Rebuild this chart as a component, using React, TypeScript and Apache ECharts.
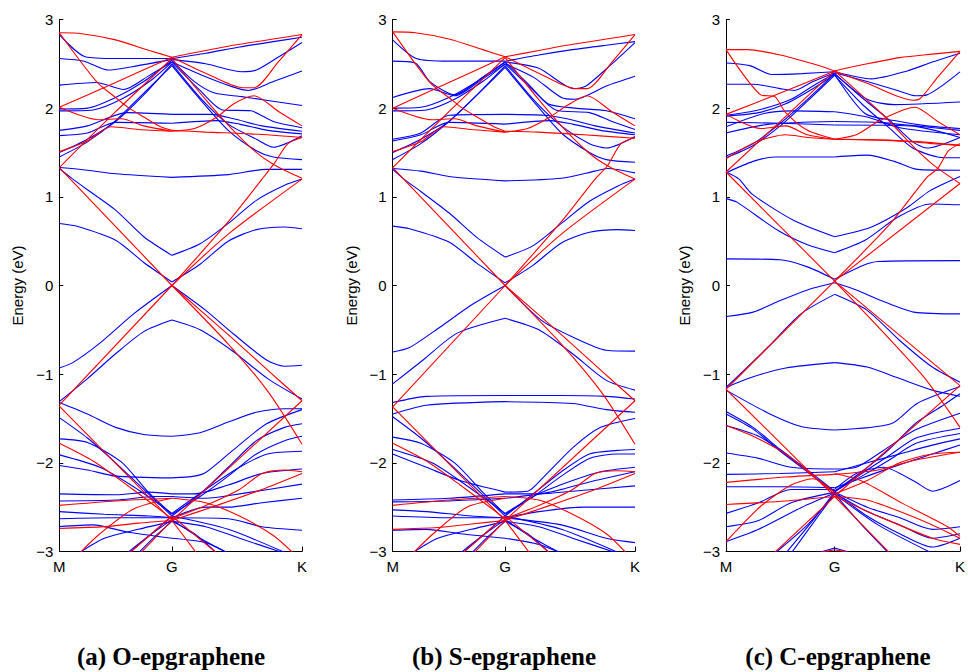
import React, { useEffect, useRef } from "react";
import * as echarts from "echarts";

const kTicks = [0, 1, 2.155];
const kLabels = ["M", "G", "K"];
const energyRange = [-3, 3];
const panelTitles = ["(a) O-epgraphene", "(b) S-epgraphene", "(c) C-epgraphene"];

const aBlue: number[][][] = [
  [[0,2.83],[0.23,2.58],[0.5,2.56],[1,2.56],[1.3,2.62],[1.6,2.69],[1.9,2.75],[2.155,2.8]],
  [[0,2.56],[0.22,2.53],[0.43,2.43],[0.7,2.48],[1,2.55],[1.3,2.5],[1.62,2.41],[1.75,2.43],[1.95,2.58],[2.155,2.74]],
  [[0,2.26],[0.33,2.29],[0.57,2.21],[0.8,2.37],[1,2.52],[1.25,2.38],[1.54,2.24],[1.68,2.2],[1.9,2.3],[2.155,2.42]],
  [[0,1.99],[0.25,2.0],[0.5,2.12],[0.75,2.3],[1,2.54],[1.2,2.3],[1.38,2.17],[1.62,2.13],[2.155,2.03]],
  [[0,1.97],[0.3,1.98],[0.55,2.1],[0.8,2.3],[1,2.52],[1.25,2.2],[1.45,1.98],[1.7,1.97],[1.9,1.85],[2.155,1.78]],
  [[0,1.75],[0.25,1.8],[0.6,1.95],[1,1.93],[1.35,1.93],[1.55,1.88],[1.8,1.8],[2.155,1.74]],
  [[0,1.69],[0.25,1.72],[0.5,1.84],[1,1.83],[1.4,1.86],[1.6,1.82],[1.85,1.75],[2.155,1.71]],
  [[0,1.5],[0.25,1.65],[0.5,1.85],[0.75,2.15],[1,2.5],[1.25,2.12],[1.5,1.82],[1.75,1.65],[1.9,1.56],[2.155,1.69]],
  [[0,1.45],[0.25,1.62],[0.5,1.86],[0.75,2.17],[1,2.48],[1.25,2.1],[1.5,1.75],[1.75,1.52],[1.9,1.45],[2.155,1.42]],
  [[0,1.33],[0.25,1.3],[0.5,1.26],[1,1.22],[1.5,1.25],[1.84,1.31],[2.155,1.31]],
  [[0,1.32],[0.1,1.22],[0.25,1.08],[0.5,0.85],[0.75,0.55],[1,0.34],[1.25,0.47],[1.5,0.7],[1.75,0.96],[2,1.13],[2.155,1.2]],
  [[0,0.7],[0.15,0.67],[0.5,0.51],[0.75,0.26],[1,0.04],[1.25,0.24],[1.5,0.5],[1.75,0.63],[2,0.66],[2.155,0.64]],
  [[0,-0.93],[0.12,-0.87],[0.36,-0.65],[0.66,-0.32],[1,0],[1.3,-0.28],[1.55,-0.55],[1.84,-0.84],[2,-0.91],[2.155,-0.9]],
  [[0,-1.31],[0.25,-1.05],[0.5,-0.77],[0.75,-0.52],[1,-0.39],[1.25,-0.5],[1.55,-0.75],[1.85,-1.05],[2.155,-1.28]],
  [[0,-1.32],[0.25,-1.45],[0.5,-1.6],[0.75,-1.68],[1,-1.7],[1.25,-1.66],[1.5,-1.54],[1.75,-1.43],[2,-1.39],[2.155,-1.39]],
  [[0,-1.49],[0.25,-1.72],[0.5,-2.0],[0.75,-2.3],[1,-2.6],[1.25,-2.35],[1.5,-2.05],[1.75,-1.75],[2,-1.6],[2.155,-1.56]],
  [[0,-1.73],[0.25,-1.77],[0.55,-1.99],[0.79,-2.33],[1,-2.58],[1.25,-2.38],[1.5,-2.15],[1.75,-1.9],[2,-1.75],[2.155,-1.7]],
  [[0,-2.03],[0.25,-2.08],[0.5,-2.15],[1,-2.17],[1.2,-2.15],[1.31,-2.1],[1.54,-1.86],[1.84,-1.56],[2.155,-1.4]],
  [[0,-1.91],[0.36,-2.05],[0.66,-2.27],[1,-2.57],[1.3,-2.3],[1.6,-2.05],[1.85,-1.9],[2.155,-1.87]],
  [[0,-2.35],[0.5,-2.36],[0.8,-2.33],[1,-2.35],[1.2,-2.35],[1.5,-2.25],[1.8,-2.12],[2.155,-2.07]],
  [[0,-2.43],[0.5,-2.42],[0.85,-2.38],[1,-2.38],[1.3,-2.4],[1.6,-2.35],[2.155,-2.24]],
  [[0,-2.55],[0.4,-2.58],[0.8,-2.6],[1,-2.62],[1.3,-2.5],[1.5,-2.5],[1.8,-2.45],[2.155,-2.4]],
  [[0,-2.63],[0.5,-2.62],[1,-2.62],[1.5,-2.63],[1.8,-2.72],[2.155,-2.76]],
  [[0,-2.72],[0.3,-2.7],[0.6,-2.78],[1,-2.85],[1.3,-2.9],[1.5,-3.02]],
  [[0.17,-3.02],[0.4,-2.85],[0.7,-2.75],[1,-2.66],[1.3,-2.72],[1.6,-2.85],[2.0,-3.02]],
  [[0.6,-3.02],[0.8,-2.82],[1,-2.64],[1.25,-2.85],[1.5,-3.02]],
  [[0.7,-3.02],[0.85,-2.83],[1,-2.66],[1.2,-2.8],[1.4,-3.02]],
  [[0.62,-3.02],[1,-2.6],[1.5,-2.75],[2.02,-3.02]],
];

const aRed: number[][][] = [
  [[0,2.85],[0.2,2.84],[0.5,2.77],[0.8,2.65],[1,2.575],[1.3,2.65],[1.6,2.72],[1.9,2.78],[2.155,2.83]],
  [[0,2.85],[0.33,2.3],[0.5,2.12],[0.62,2.0],[0.75,1.9],[0.9,1.79],[1,1.75],[1.3,1.73],[1.7,1.71],[2.155,1.67]],
  [[0,2.01],[0.5,2.29],[1,2.575],[1.29,2.4],[1.63,2.23],[1.73,2.23],[1.95,2.53],[2.155,2.83]],
  [[0,2.01],[0.35,1.87],[0.55,1.88],[0.75,1.8],[1,1.74],[1.2,1.77],[1.4,1.9],[1.55,2.05],[1.73,2.14],[1.95,1.96],[2.155,1.8]],
  [[0,1.51],[0.25,1.63],[0.46,1.79],[0.7,1.76],[1,1.74]],
  [[0,1.33],[0.5,1.96],[1,2.56],[1.29,2.11],[1.5,1.81],[1.74,1.51],[1.91,1.36],[2.155,1.21]],
  [[0,1.33],[1,0],[1.54,-0.6],[1.855,-0.96],[2.155,-1.3]],
  [[0,-1.35],[1,0],[1.5,0.72],[1.8,1.2],[1.91,1.38],[2.03,1.6],[2.155,1.67]],
  [[1,0],[1.5,0.58],[2.155,1.2]],
  [[1,0],[1.5,-0.66],[1.855,-1.2],[2.155,-1.79]],
  [[0,-1.36],[1,-2.65],[2.155,-1.3]],
  [[0,-1.78],[0.3,-1.98],[0.6,-2.25],[1,-2.63],[1.3,-2.48],[1.6,-2.3],[1.8,-2.12],[2,-2.08],[2.155,-2.1]],
  [[0,-2.48],[0.5,-2.43],[1,-2.4],[1.3,-2.45],[1.6,-2.6],[1.9,-2.82],[2.08,-3.02]],
  [[0,-2.74],[0.4,-2.72],[0.7,-2.68],[1,-2.65],[1.4,-2.48],[1.8,-2.3],[2.155,-2.12]],
  [[0.18,-3.02],[0.36,-2.8],[0.66,-2.52],[1,-2.4]],
  [[0.72,-3.02],[1,-2.65],[1.22,-3.02]],
  [[0.62,-3.02],[1,-2.6],[1.4,-3.02]],
];

const bBlue: number[][][] = [
  [[0,2.77],[0.21,2.56],[0.5,2.53],[1,2.53],[1.3,2.6],[1.6,2.66],[1.9,2.71],[2.155,2.75]],
  [[0,2.53],[0.2,2.51],[0.33,2.3],[0.55,2.15],[0.8,2.35],[1,2.52],[1.3,2.45],[1.61,2.22],[1.72,2.25],[1.95,2.5],[2.155,2.74]],
  [[0,2.12],[0.33,2.22],[0.55,2.14],[0.8,2.33],[1,2.5],[1.25,2.35],[1.5,2.12],[1.62,2.1],[1.9,2.25],[2.155,2.36]],
  [[0,2.0],[0.25,2.01],[0.5,2.12],[0.75,2.3],[1,2.52],[1.2,2.28],[1.38,2.05],[1.62,2.0],[1.9,1.97],[2.155,1.88]],
  [[0,1.97],[0.3,1.98],[0.55,2.1],[0.8,2.3],[1,2.5],[1.25,2.2],[1.45,1.98],[1.75,1.95],[1.95,1.85],[2.155,1.76]],
  [[0,1.65],[0.25,1.72],[0.5,1.92],[1,1.93],[1.35,1.92],[1.55,1.88],[1.8,1.8],[2.155,1.72]],
  [[0,1.63],[0.25,1.7],[0.5,1.84],[1,1.82],[1.4,1.86],[1.6,1.82],[1.85,1.75],[2.155,1.7]],
  [[0,1.5],[0.25,1.65],[0.5,1.85],[0.75,2.15],[1,2.48],[1.25,2.1],[1.5,1.8],[1.75,1.6],[1.9,1.55],[2.155,1.68]],
  [[0,1.42],[0.25,1.6],[0.5,1.85],[0.75,2.15],[1,2.46],[1.25,2.08],[1.5,1.72],[1.75,1.5],[1.9,1.42],[2.155,1.39]],
  [[0,1.32],[0.25,1.29],[0.5,1.23],[1,1.18],[1.5,1.21],[1.8,1.29],[1.91,1.32],[2.155,1.27]],
  [[0,1.31],[0.1,1.2],[0.25,1.06],[0.5,0.82],[0.75,0.54],[1,0.32],[1.25,0.45],[1.5,0.7],[1.75,0.95],[2,1.12],[2.155,1.2]],
  [[0,0.67],[0.15,0.64],[0.5,0.49],[0.75,0.25],[1,0.03],[1.25,0.23],[1.5,0.48],[1.75,0.6],[2,0.63],[2.155,0.62]],
  [[0,-0.75],[0.15,-0.7],[0.42,-0.47],[0.7,-0.22],[1,0],[1.32,-0.39],[1.6,-0.58],[1.9,-0.73],[2.155,-0.74]],
  [[0,-1.11],[0.27,-0.84],[0.57,-0.54],[1,-0.37],[1.3,-0.5],[1.6,-0.77],[1.9,-1.07],[2.155,-1.18]],
  [[0,-1.32],[0.3,-1.25],[1,-1.24],[1.5,-1.24],[1.9,-1.25],[2.155,-1.28]],
  [[0,-1.45],[0.3,-1.35],[1,-1.31],[1.6,-1.33],[1.9,-1.4],[2.155,-1.43]],
  [[0,-1.48],[0.25,-1.72],[0.5,-2.0],[0.75,-2.3],[1,-2.6],[1.25,-2.35],[1.5,-2.1],[1.75,-1.9],[2,-1.86],[2.155,-1.85]],
  [[0,-1.71],[0.25,-1.78],[0.55,-2.0],[0.8,-2.33],[1,-2.58],[1.25,-2.38],[1.5,-2.15],[1.75,-1.95],[2,-1.9],[2.155,-1.9]],
  [[0,-1.85],[0.35,-2.0],[0.65,-2.25],[1,-2.57],[1.3,-2.35],[1.6,-2.2],[1.85,-2.1],[2.155,-2.05]],
  [[0,-1.9],[0.3,-2.05],[0.6,-2.2],[1,-2.33],[1.2,-2.32],[1.35,-2.15],[1.61,-1.82],[1.85,-1.6],[2.155,-1.5]],
  [[0,-2.42],[0.5,-2.4],[1,-2.35],[1.3,-2.35],[1.6,-2.32],[2.155,-2.26]],
  [[0,-2.44],[0.5,-2.43],[1,-2.4],[1.4,-2.33],[1.8,-2.2],[2.155,-2.1]],
  [[0,-2.53],[0.3,-2.55],[0.7,-2.6],[1,-2.62],[1.3,-2.55],[1.7,-2.5],[2.155,-2.5]],
  [[0,-2.6],[0.5,-2.62],[1,-2.62],[1.5,-2.7],[1.9,-2.85],[2.155,-2.9]],
  [[0,-2.76],[0.3,-2.75],[0.6,-2.8],[1,-2.85],[1.3,-2.92],[1.5,-3.02]],
  [[0.17,-3.02],[0.4,-2.85],[0.7,-2.75],[1,-2.66],[1.3,-2.72],[1.6,-2.85],[2.0,-3.02]],
  [[0.6,-3.02],[0.8,-2.82],[1,-2.64],[1.25,-2.85],[1.5,-3.02]],
  [[0.7,-3.02],[0.85,-2.83],[1,-2.66],[1.2,-2.8],[1.4,-3.02]],
  [[0.62,-3.02],[1,-2.6],[1.5,-2.75],[2.02,-3.02]],
];

const bRed: number[][][] = [
  [[0,2.86],[0.2,2.85],[0.5,2.78],[0.8,2.66],[1,2.58],[1.3,2.65],[1.6,2.72],[1.9,2.78],[2.155,2.83]],
  [[0,2.86],[0.33,2.29],[0.5,2.12],[0.62,2.0],[0.75,1.9],[0.9,1.79],[1,1.74],[1.3,1.73],[1.7,1.7],[2.155,1.66]],
  [[0,2.0],[0.5,2.29],[1,2.58],[1.29,2.4],[1.63,2.22],[1.73,2.22],[1.95,2.52],[2.155,2.83]],
  [[0,2.0],[0.35,1.87],[0.55,1.88],[0.75,1.8],[1,1.73],[1.2,1.77],[1.4,1.9],[1.55,2.03],[1.73,2.14],[1.95,1.96],[2.155,1.8]],
  [[0,1.51],[0.25,1.62],[0.46,1.79],[0.7,1.76],[1,1.73]],
  [[0,1.33],[0.5,1.96],[1,2.57],[1.29,2.11],[1.5,1.8],[1.74,1.5],[1.91,1.35],[2.155,1.2]],
  [[0,1.33],[1,0],[1.54,-0.6],[1.855,-0.96],[2.155,-1.3]],
  [[0,-1.37],[1,0],[1.5,0.72],[1.8,1.2],[1.91,1.35],[2.03,1.6],[2.155,1.67]],
  [[1,0],[1.5,0.58],[2.155,1.2]],
  [[1,0],[1.5,-0.66],[1.855,-1.2],[2.155,-1.79]],
  [[0,-1.37],[1,-2.65],[2.155,-1.3]],
  [[0,-1.78],[0.3,-1.98],[0.6,-2.25],[1,-2.63],[1.3,-2.48],[1.6,-2.3],[1.8,-2.12],[2,-2.09],[2.155,-2.1]],
  [[0,-2.48],[0.5,-2.42],[1,-2.38],[1.3,-2.42],[1.6,-2.58],[1.9,-2.8],[2.08,-3.02]],
  [[0,-2.75],[0.4,-2.73],[0.7,-2.69],[1,-2.65],[1.4,-2.48],[1.8,-2.3],[2.155,-2.12]],
  [[0.18,-3.02],[0.36,-2.8],[0.66,-2.5],[1,-2.4]],
  [[0.72,-3.02],[1,-2.65],[1.22,-3.02]],
  [[0.62,-3.02],[1,-2.6],[1.4,-3.02]],
];

const cBlue: number[][][] = [
  [[0,2.51],[0.22,2.48],[0.42,2.38],[0.7,2.39],[1,2.41],[1.34,2.33],[1.67,2.42],[1.9,2.52],[2.155,2.62]],
  [[0,2.27],[0.25,2.27],[0.5,2.22],[0.63,2.2],[0.8,2.3],[1,2.4],[1.3,2.3],[1.58,2.2],[1.75,2.14],[1.85,2.15],[2.155,2.41]],
  [[0,1.92],[0.3,1.98],[0.6,2.1],[0.8,2.25],[1,2.39],[1.3,2.1],[1.55,2.04],[2.155,2.07]],
  [[0,1.91],[0.3,1.95],[0.55,2.05],[0.8,2.22],[1,2.38],[1.28,1.94],[1.55,1.86],[1.85,1.8],[2.155,1.77]],
  [[0,1.79],[0.35,1.94],[0.6,1.97],[1,1.96],[1.3,1.9],[1.6,1.78],[2.155,1.7]],
  [[0,1.72],[0.4,1.82],[1,1.85],[1.4,1.84],[1.75,1.8],[2.155,1.75]],
  [[0,1.84],[0.5,1.83],[1,1.81],[1.7,1.8],[2.155,1.67]],
  [[0,1.46],[0.25,1.6],[0.5,1.83],[0.75,2.1],[1,2.39],[1.25,2.12],[1.5,1.87],[1.72,1.62],[1.85,1.55],[2.155,1.67]],
  [[0,1.44],[0.25,1.58],[0.5,1.8],[0.75,2.08],[1,2.37],[1.25,2.05],[1.5,1.78],[1.72,1.55],[1.95,1.45],[2.155,1.44]],
  [[0,1.27],[0.25,1.4],[0.45,1.45],[1,1.45],[1.3,1.47],[1.55,1.4],[1.76,1.31],[2.155,1.3]],
  [[0,1.28],[0.12,1.2],[0.24,1.03],[0.63,0.73],[1,0.55],[1.34,0.66],[1.67,0.88],[1.88,1.07],[2.155,1.23]],
  [[0,0.98],[0.1,0.94],[0.48,0.62],[0.75,0.46],[1,0.37],[1.28,0.51],[1.58,0.77],[1.88,0.92],[2.155,0.91]],
  [[0,0.3],[0.5,0.29],[0.75,0.21],[1,0.07],[1.25,0.22],[1.4,0.27],[2.155,0.28]],
  [[0,-0.35],[0.25,-0.3],[0.5,-0.17],[0.75,-0.05],[1,0.03],[1.2,-0.05],[1.43,-0.17],[1.73,-0.3],[2.155,-0.32]],
  [[0,-1.15],[0.39,-0.69],[0.69,-0.32],[1,-0.1],[1.3,-0.28],[1.6,-0.62],[1.9,-0.92],[2.155,-1.09]],
  [[0,-1.15],[0.25,-1.03],[0.55,-0.93],[1,-0.87],[1.3,-0.92],[1.6,-1.05],[1.9,-1.18],[2.155,-1.25]],
  [[0,-1.18],[0.39,-1.44],[0.69,-1.59],[1,-1.63],[1.52,-1.56],[1.76,-1.33],[2.155,-1.14]],
  [[0,-1.42],[0.25,-1.6],[0.5,-1.85],[0.75,-2.08],[1,-2.32],[1.25,-2.1],[1.5,-1.85],[1.75,-1.55],[2,-1.35],[2.155,-1.22]],
  [[0,-1.45],[0.25,-1.62],[0.5,-1.87],[0.75,-2.1],[1,-2.33],[1.25,-2.12],[1.5,-1.92],[1.75,-1.72],[2.155,-1.61]],
  [[0,-1.58],[0.3,-1.7],[0.55,-1.9],[0.8,-2.15],[1,-2.32],[1.25,-2.15],[1.5,-1.97],[1.75,-1.78],[2.155,-1.67]],
  [[0,-1.89],[0.3,-1.95],[0.6,-2.05],[1,-2.07],[1.2,-2.05],[1.45,-1.86],[1.74,-1.63],[2.155,-1.44]],
  [[0,-2.13],[0.5,-2.12],[1,-2.1],[1.3,-2.0],[1.6,-1.9],[1.9,-1.8],[2.155,-1.73]],
  [[0,-2.27],[0.5,-2.27],[1,-2.28],[1.3,-2.15],[1.6,-2.02],[1.9,-1.9],[2.155,-1.8]],
  [[0,-2.57],[0.3,-2.45],[0.6,-2.3],[1,-2.3],[1.2,-2.12],[1.45,-2.05],[1.75,-2.22],[1.9,-2.32],[2.155,-2.2]],
  [[0,-2.72],[0.3,-2.65],[0.6,-2.45],[1,-2.33],[1.3,-2.5],[1.6,-2.62],[1.9,-2.75],[2.155,-2.72]],
  [[0,-2.89],[0.3,-2.75],[0.7,-2.5],[1,-2.34],[1.3,-2.55],[1.6,-2.7],[1.9,-2.85],[2.155,-2.8]],
  [[0.55,-3.02],[0.8,-2.65],[1,-2.33],[1.3,-2.6],[1.6,-2.8],[1.9,-2.95],[2.155,-2.85]],
  [[0.6,-3.02],[0.85,-2.6],[1,-2.35],[1.4,-2.7],[1.9,-3.02]],
  [[0.45,-3.02],[0.75,-2.7],[1,-2.35],[1.25,-2.7],[1.5,-3.02]],
  [[0.75,-3.05],[1,-2.96],[1.25,-3.05]],
];

const cRed: number[][][] = [
  [[0,2.66],[0.2,2.66],[0.5,2.6],[0.8,2.5],[1,2.42],[1.3,2.5],[1.6,2.57],[1.9,2.61],[2.155,2.64]],
  [[0,2.66],[0.32,2.15],[0.45,2.13],[0.55,1.95],[0.75,1.75],[1,1.65],[1.4,1.64],[1.8,1.62],[2.155,1.58]],
  [[0,1.93],[0.5,2.17],[1,2.42],[1.3,2.28],[1.72,2.09],[1.78,2.1],[1.95,2.35],[2.155,2.64]],
  [[0,1.93],[0.32,1.77],[0.55,1.8],[0.75,1.7],[1,1.65],[1.2,1.7],[1.4,1.85],[1.63,1.98],[1.74,2.01],[1.95,1.85],[2.155,1.7]],
  [[0,1.43],[0.28,1.62],[0.55,1.7],[0.75,1.67],[1,1.65],[1.5,1.64],[1.9,1.6],[2.155,1.58]],
  [[0,1.28],[1,2.42],[1.45,1.92],[1.74,1.55],[1.93,1.34],[2.155,1.15]],
  [[0,1.28],[1,0.05],[2.155,-1.13]],
  [[1,0.05],[1.8,-1.0],[2.155,-1.6]],
  [[0,-1.17],[1,0.05],[2.155,1.15]],
  [[1,0.05],[1.5,0.68],[1.85,1.22],[1.95,1.32],[2.05,1.52],[2.155,1.6]],
  [[0,-1.17],[1,-2.38],[2.155,-1.13]],
  [[0,-1.58],[0.25,-1.7],[0.55,-1.9],[0.8,-2.15],[1,-2.35],[1.3,-2.2],[1.6,-2.0],[1.9,-1.9],[2.155,-1.88]],
  [[0,-2.22],[0.55,-2.16],[1,-2.13],[1.4,-2.08],[1.74,-1.97],[2.155,-1.88]],
  [[0,-2.47],[0.55,-2.43],[1,-2.38],[1.3,-2.42],[1.6,-2.55],[1.9,-2.7],[2.155,-2.85]],
  [[0,-2.89],[0.32,-2.49],[0.6,-2.25],[0.8,-2.18],[1,-2.33]],
  [[0.44,-3.02],[1,-2.38],[1.51,-3.02]],
  [[1,-2.12],[1.24,-2.2],[1.63,-2.46],[2.04,-2.72],[2.155,-2.83]],
  [[0.7,-3.05],[1,-2.98],[1.3,-3.05]],
  [[1,-2.38],[1.4,-2.6],[1.9,-2.85],[2.155,-2.92]],
];

const BLUE = "#0000ff";
const RED = "#ff0000";
const AXIS_FONT = "'Liberation Sans', Arial, Helvetica, sans-serif";

const panels = [
  { blue: aBlue, red: aRed, left: 59.3, width: 242.7, titleX: 171 },
  { blue: bBlue, red: bRed, left: 392.7, width: 242.3, titleX: 504 },
  { blue: cBlue, red: cRed, left: 726, width: 242, titleX: 838 },
];

function splitAtG(band: number[][]): number[][][] {
  const gi = band.findIndex((p) => p[0] === 1);
  if (gi <= 0 || gi >= band.length - 1) return [band];
  return [band.slice(0, gi + 1), band.slice(gi)];
}

function buildOption() {
  const grid: any[] = [];
  const xAxis: any[] = [];
  const yAxis: any[] = [];
  const series: any[] = [];
  panels.forEach((p, i) => {
    grid.push({ left: p.left, top: 19.5, width: p.width, height: 532, containLabel: false });
    xAxis.push({
      type: "value",
      gridIndex: i,
      min: kTicks[0],
      max: kTicks[kTicks.length - 1],
      axisLine: { show: true, onZero: false, lineStyle: { color: "#000", width: 1 } },
      axisTick: { show: true, inside: true, length: 5, customValues: kTicks, lineStyle: { color: "#000" } },
      axisLabel: {
        show: true,
        customValues: kTicks,
        color: "#000",
        fontSize: 15,
        fontFamily: AXIS_FONT,
        margin: 7,
        formatter: (v: number) => {
          const idx = kTicks.findIndex((t) => Math.abs(t - v) < 1e-6);
          return idx >= 0 ? kLabels[idx] : "";
        },
      },
      splitLine: { show: false },
    });
    yAxis.push({
      type: "value",
      gridIndex: i,
      min: energyRange[0],
      max: energyRange[1],
      interval: 1,
      axisLine: { show: true, onZero: false, lineStyle: { color: "#000", width: 1 } },
      axisTick: { show: true, inside: true, length: 4, lineStyle: { color: "#000" } },
      axisLabel: {
        color: "#000",
        fontSize: 15,
        fontFamily: AXIS_FONT,
        margin: 6,
        formatter: (v: number) => (v < 0 ? "\u2212" + Math.abs(v) : String(v)),
      },
      splitLine: { show: false },
      name: "Energy (eV)",
      nameLocation: "middle",
      nameGap: 34,
      nameRotate: 90,
      nameTextStyle: { color: "#000", fontSize: 15, fontFamily: AXIS_FONT },
    });
    const addBands = (bands: number[][][], color: string, z: number) => {
      bands.forEach((band) => {
        splitAtG(band).forEach((seg) => {
          series.push({
            type: "line",
            xAxisIndex: i,
            yAxisIndex: i,
            data: seg,
            symbol: "none",
            showSymbol: false,
            smooth: 0.25,
            silent: true,
            clip: true,
            z,
            lineStyle: { color, width: 1.1 },
          });
        });
      });
    };
    addBands(p.blue, BLUE, 2);
    addBands(p.red, RED, 3);
  });

  const graphic = panels.map((p, i) => ({
    type: "text",
    x: p.titleX,
    y: 656,
    style: {
      text: panelTitles[i],
      font: "bold 25px 'Liberation Serif', 'Times New Roman', serif",
      fill: "#000",
      textAlign: "center",
      textVerticalAlign: "middle",
    },
  }));

  return {
    animation: false,
    backgroundColor: "#fff",
    grid,
    xAxis,
    yAxis,
    series,
    graphic,
  };
}

export default function App() {
  const ref = useRef<HTMLDivElement>(null);
  useEffect(() => {
    if (!ref.current) return;
    const chart = echarts.init(ref.current, null, { renderer: "svg" });
    chart.setOption(buildOption() as any);
    return () => chart.dispose();
  }, []);
  return (
    <div
      ref={ref}
      style={{ position: "absolute", left: 0, top: 0, width: 968, height: 672, background: "#fff" }}
    />
  );
}
